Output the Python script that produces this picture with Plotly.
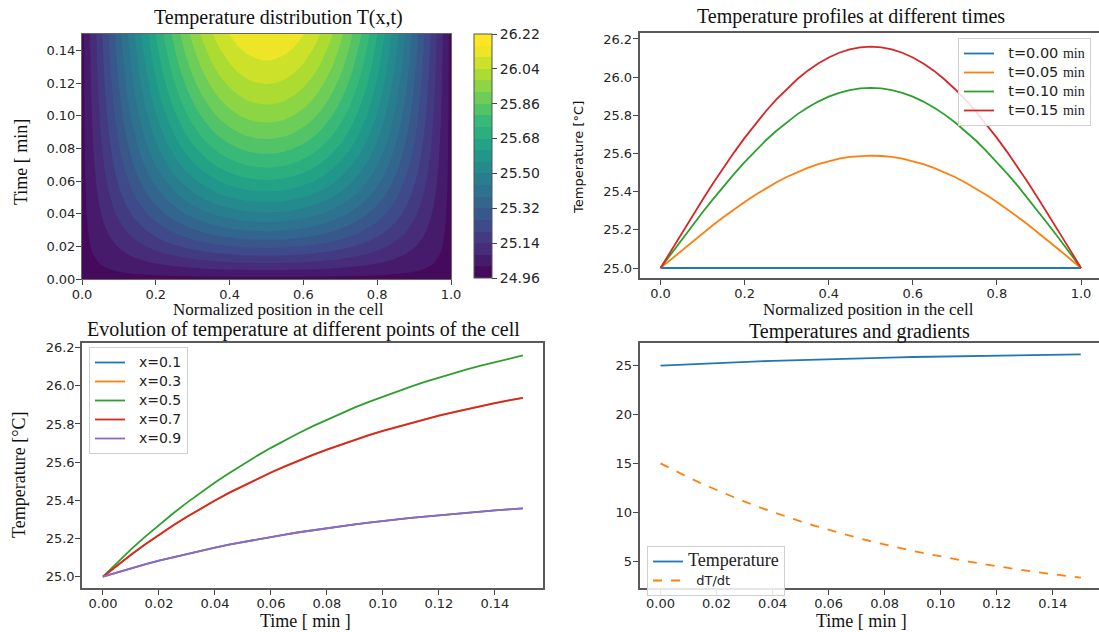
import plotly.graph_objects as go

# ---- data -------------------------------------------------------------
# normalized position in the cell
x_pos = [0.000, 0.025, 0.050, 0.075, 0.100, 0.125, 0.150, 0.175, 0.200, 0.225, 0.250,
         0.275, 0.300, 0.325, 0.350, 0.375, 0.400, 0.425, 0.450, 0.475, 0.500,
         0.525, 0.550, 0.575, 0.600, 0.625, 0.650, 0.675, 0.700, 0.725, 0.750,
         0.775, 0.800, 0.825, 0.850, 0.875, 0.900, 0.925, 0.950, 0.975, 1.000]

# temperature profiles T(x) at selected times [°C]
prof_t000 = [25.000] * 41
prof_t005 = [25.000, 25.046, 25.092, 25.137, 25.182, 25.225, 25.267, 25.308, 25.346, 25.383, 25.416,
             25.448, 25.477, 25.502, 25.525, 25.544, 25.560, 25.573, 25.582, 25.587, 25.589,
             25.587, 25.582, 25.573, 25.560, 25.544, 25.525, 25.502, 25.477, 25.448, 25.416,
             25.383, 25.346, 25.308, 25.267, 25.225, 25.182, 25.137, 25.092, 25.046, 25.000]
prof_t010 = [25.000, 25.074, 25.148, 25.220, 25.292, 25.361, 25.429, 25.493, 25.555, 25.613, 25.668,
             25.718, 25.764, 25.805, 25.841, 25.872, 25.898, 25.918, 25.932, 25.941, 25.944,
             25.941, 25.932, 25.918, 25.898, 25.872, 25.841, 25.805, 25.764, 25.718, 25.668,
             25.613, 25.555, 25.493, 25.429, 25.361, 25.292, 25.220, 25.148, 25.074, 25.000]
prof_t015 = [25.000, 25.091, 25.181, 25.271, 25.358, 25.444, 25.527, 25.606, 25.682, 25.753, 25.820,
             25.882, 25.938, 25.989, 26.034, 26.072, 26.103, 26.128, 26.146, 26.156, 26.160,
             26.156, 26.146, 26.128, 26.103, 26.072, 26.034, 25.989, 25.938, 25.882, 25.820,
             25.753, 25.682, 25.606, 25.527, 25.444, 25.358, 25.271, 25.181, 25.091, 25.000]
profile_labels = ["0.00", "0.05", "0.10", "0.15"]

# time [min]
t_min = [0.000, 0.005, 0.010, 0.015, 0.020, 0.025, 0.030, 0.035, 0.040, 0.045, 0.050,
         0.055, 0.060, 0.065, 0.070, 0.075, 0.080, 0.085, 0.090, 0.095, 0.100,
         0.105, 0.110, 0.115, 0.120, 0.125, 0.130, 0.135, 0.140, 0.145, 0.150]

# temperature evolution at points of the cell [°C]
temp_x01 = [25.000, 25.023, 25.044, 25.065, 25.084, 25.102, 25.120, 25.137, 25.153, 25.168, 25.182,
            25.196, 25.209, 25.221, 25.233, 25.244, 25.254, 25.264, 25.274, 25.283, 25.292,
            25.300, 25.308, 25.315, 25.322, 25.329, 25.335, 25.342, 25.347, 25.353, 25.358]
temp_x03 = [25.000, 25.059, 25.115, 25.169, 25.220, 25.268, 25.314, 25.358, 25.399, 25.439, 25.476,
            25.512, 25.546, 25.578, 25.609, 25.638, 25.666, 25.692, 25.717, 25.741, 25.764,
            25.785, 25.806, 25.825, 25.844, 25.861, 25.878, 25.894, 25.909, 25.924, 25.937]
temp_x05 = [25.000, 25.073, 25.143, 25.209, 25.272, 25.331, 25.388, 25.442, 25.494, 25.542, 25.589,
            25.633, 25.675, 25.715, 25.753, 25.789, 25.823, 25.856, 25.887, 25.916, 25.944,
            25.971, 25.996, 26.020, 26.043, 26.065, 26.086, 26.105, 26.124, 26.142, 26.159]
temp_x07 = temp_x03
temp_x09 = temp_x01
point_labels = ["0.1", "0.3", "0.5", "0.7", "0.9"]

# rate of change at the cell centre [°C/min]
dTdt = [15.00, 14.26, 13.56, 12.89, 12.26, 11.65, 11.08, 10.53, 10.01, 9.52, 9.05,
        8.61, 8.18, 7.78, 7.40, 7.03, 6.69, 6.36, 6.04, 5.75, 5.46,
        5.19, 4.94, 4.70, 4.46, 4.24, 4.04, 3.84, 3.65, 3.47, 3.30]

# contour levels / colorbar ticks
levels_start, levels_end, levels_step = 24.96, 26.22, 0.06
cbar_ticks = [24.96, 25.14, 25.32, 25.50, 25.68, 25.86, 26.04, 26.22]

# T(x,t) table: centre history scaled by the normalized final profile
centre_rise = prof_t015[20] - 25.0
shape = [(p - 25.0) / centre_rise for p in prof_t015]
T_field = [[25.0 + (tc - 25.0) * s for s in shape] for tc in temp_x05]

# ---- style ------------------------------------------------------------
W, H = 1099, 632
C = ["#1f77b4", "#ff7f0e", "#2ca02c", "#d62728", "#9467bd"]
SANS = "DejaVu Sans"
SERIF = "Liberation Serif"
TICK_FONT = dict(family=SANS, size=13, color="#262626")
FRAME = "#5a5a5a"


def px_x(p):
    return p / W


def px_y(p):
    return 1 - p / H


fig = go.Figure()

# panel 1: contour map
fig.add_trace(go.Contour(
    x=x_pos, y=t_min, z=T_field,
    colorscale="Viridis", zmin=levels_start, zmax=levels_end,
    autocontour=False,
    contours=dict(start=levels_start, end=levels_end, size=levels_step,
                  coloring="fill", showlines=False),
    line=dict(width=0, smoothing=0.5),
    colorbar=dict(
        x=px_x(474), xanchor="left", xpad=0, ypad=0,
        y=px_y(156), yanchor="middle", len=(278 - 34) / H, lenmode="fraction",
        thickness=18, outlinewidth=1, outlinecolor="#555",
        tickvals=cbar_ticks, ticktext=[f"{v:.2f}" for v in cbar_ticks],
        ticks="outside", ticklen=5, tickcolor="#444",
        tickfont=dict(family=SANS, size=14, color="#262626"),
    ),
    xaxis="x", yaxis="y", showlegend=False,
))

# panel 2: profiles at different times
for prof, lab, col in zip([prof_t000, prof_t005, prof_t010, prof_t015], profile_labels, C):
    fig.add_trace(go.Scatter(
        x=x_pos, y=prof, mode="lines", line=dict(color=col, width=1.8),
        name=f"<span style='font-size:14.5px'>  t={lab} </span>"
             f"<span style='font-family:{SERIF};font-size:14px'>min</span>",
        xaxis="x2", yaxis="y2", legend="legend",
    ))

# panel 3: evolution at points of the cell
for series, lab, col in zip([temp_x01, temp_x03, temp_x05, temp_x07, temp_x09], point_labels, C):
    fig.add_trace(go.Scatter(
        x=t_min, y=series, mode="lines", line=dict(color=col, width=1.8),
        name=f"<span style='font-size:14px'>  x={lab}</span>",
        xaxis="x3", yaxis="y3", legend="legend2",
    ))

# panel 4: temperature and gradient
fig.add_trace(go.Scatter(
    x=t_min, y=temp_x05, mode="lines", line=dict(color=C[0], width=1.8),
    name=f"<span style='font-family:{SERIF};font-size:18px'>Temperature</span>",
    xaxis="x4", yaxis="y4", legend="legend3",
))
fig.add_trace(go.Scatter(
    x=t_min, y=dTdt, mode="lines", line=dict(color=C[1], width=1.8, dash="dash"),
    name="<span style='font-size:13px'>  dT/dt</span>",
    xaxis="x4", yaxis="y4", legend="legend3",
))


def axis(domain, rng, tickvals, fmt, anchor, frame=True):
    return dict(
        domain=domain, range=rng, anchor=anchor,
        tickvals=tickvals, ticktext=[format(v, fmt) for v in tickvals],
        ticks="outside", ticklen=5, tickwidth=1, tickcolor="#444",
        ticklabelstandoff=-2,
        tickfont=TICK_FONT, showgrid=False, zeroline=False,
        showline=True, linecolor=FRAME if frame else "#666",
        linewidth=1.6 if frame else 1, mirror=True,
    )


xt_pos = [0.0, 0.2, 0.4, 0.6, 0.8, 1.0]
xt_time = [0.00, 0.02, 0.04, 0.06, 0.08, 0.10, 0.12, 0.14]
yt_temp = [25.0, 25.2, 25.4, 25.6, 25.8, 26.0, 26.2]

legend_common = dict(
    bgcolor="rgba(255,255,255,0.85)", bordercolor="#d0d0d0", borderwidth=1,
    font=dict(family=SANS, size=11, color="#222"), itemwidth=30,
    tracegroupgap=0, xanchor="left", yanchor="top",
)

fig.update_layout(
    width=W, height=H, margin=dict(l=0, r=0, t=0, b=0, autoexpand=False),
    paper_bgcolor="white", plot_bgcolor="white",
    xaxis=axis([px_x(82), px_x(451)], [0, 1], xt_pos, ".1f", "y", frame=False),
    yaxis=axis([px_y(279), px_y(34)], [0, 0.15], xt_time, ".2f", "x", frame=False),
    xaxis2=axis([px_x(639.5), 1.0], [-0.05, 1.0428], xt_pos, ".1f", "y2"),
    yaxis2=axis([px_y(278), px_y(33)], [24.9476, 26.2314], yt_temp, ".1f", "x2"),
    xaxis3=axis([px_x(82), px_x(543)], [-0.0075, 0.1572], xt_time, ".2f", "y3"),
    yaxis3=axis([px_y(588), px_y(343)], [24.941, 26.224], yt_temp, ".1f", "x3"),
    xaxis4=axis([px_x(639.5), 1.0], [-0.0075, 0.1565], xt_time, ".2f", "y4"),
    yaxis4=axis([px_y(588), px_y(343)], [2.24, 27.32], [5, 10, 15, 20, 25], "d", "x4"),
    legend=dict(x=px_x(958), y=px_y(38), **legend_common),
    legend2=dict(x=px_x(89), y=px_y(347), **legend_common),
    legend3=dict(x=px_x(647), y=px_y(546), **legend_common),
    showlegend=True,
)


# titles and axis labels
def label(text, xc, yc, size=20, family=SERIF, angle=0):
    fig.add_annotation(
        text=text, x=px_x(xc), y=px_y(yc), xref="paper", yref="paper",
        xanchor="center", yanchor="middle", showarrow=False, textangle=angle,
        font=dict(family=family, size=size, color="#111"),
    )


label("Temperature distribution T(x,t)", 278, 17)
label("Temperature profiles at different times", 851, 16)
label("Evolution of temperature at different points of the cell", 303, 329)
label("Temperatures and gradients", 859, 331)

label("Normalized position in the cell", 278, 310, size=17)
label("Normalized position in the cell", 868, 310, size=17)
label("Time [ min ]", 305, 621, size=18)
label("Time [ min ]", 861, 621, size=18)

label("Time [ min]", 21, 162, size=18, angle=-90)
label("Temperature [°C]", 578, 158, size=13, family=SANS, angle=-90)
label("Temperature [°C]", 19, 475, size=18, angle=-90)

fig.write_html("out.html")
